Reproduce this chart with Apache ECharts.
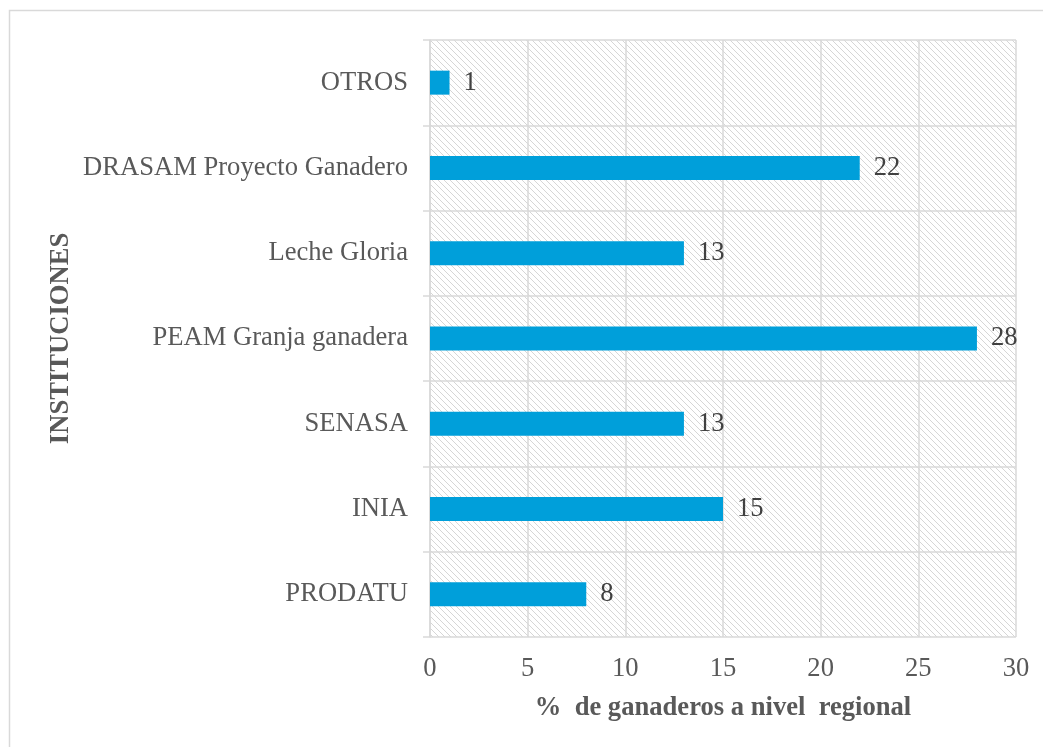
<!DOCTYPE html>
<html>
<head>
<meta charset="utf-8">
<script src="https://cdn.jsdelivr.net/npm/echarts@6/dist/echarts.min.js"></script>
<style>
  html, body { margin: 0; padding: 0; background: #fff; }
  #chart { width: 1043px; height: 747px; }
</style>
</head>
<body>
<div id="chart"></div>
<script>
// categories from bottom to top
const categories = ['PRODATU', 'INIA', 'SENASA', 'PEAM Granja ganadera', 'Leche Gloria', 'DRASAM Proyecto Ganadero', 'OTROS'];
const values = [8, 15, 13, 28, 13, 22, 1];
const xTicks = [0, 5, 10, 15, 20, 25, 30];

// hatch background like the excel "light downward diagonal" fill
function makeHatch() {
    const size = 6;
    const c = document.createElement('canvas');
    c.width = size;
    c.height = size;
    const ctx = c.getContext('2d');
    ctx.strokeStyle = '#d6d6d6';
    ctx.lineWidth = 1;
    ctx.beginPath();
    ctx.moveTo(-1, -1);
    ctx.lineTo(size + 1, size + 1);
    ctx.moveTo(-1, size - 1);
    ctx.lineTo(1, size + 1);
    ctx.moveTo(size - 1, -1);
    ctx.lineTo(size + 1, 1);
    ctx.stroke();
    return c;
}

const font = '"Liberation Serif", "Times New Roman", serif';
const fs = 26.6;
const chart = echarts.init(document.getElementById('chart'));

chart.setOption({
    backgroundColor: '#fff',
    animation: false,
    graphic: [{
        type: 'rect',
        shape: { x: 9.5, y: 10.5, width: 1100, height: 800 },
        style: { fill: 'none', stroke: '#d9d9d9', lineWidth: 1.5 },
        z: -10
    }],
    grid: {
        left: 430,
        right: 27,
        top: 40,
        bottom: 110,
        show: true,
        borderWidth: 0,
        backgroundColor: { image: makeHatch(), repeat: 'repeat' }
    },
    xAxis: {
        type: 'value',
        min: xTicks[0],
        max: xTicks[xTicks.length - 1],
        interval: 5,
        name: '%  de ganaderos a nivel  regional',
        nameLocation: 'middle',
        nameGap: 58,
        nameTextStyle: { fontFamily: font, fontSize: fs, fontWeight: 'bold', color: '#595959' },
        axisLine: { show: false },
        axisTick: { show: false },
        axisLabel: { fontFamily: font, fontSize: fs, color: '#595959', margin: 19 },
        splitLine: { show: true, lineStyle: { color: '#d9d9d9', width: 1.5 } }
    },
    yAxis: {
        type: 'category',
        data: categories,
        name: 'INSTITUCIONES',
        nameLocation: 'middle',
        nameMoveOverlap: false,
        nameGap: 355,
        nameRotate: 90,
        nameTextStyle: { fontFamily: font, fontSize: fs, fontWeight: 'bold', color: '#595959' },
        axisLine: { show: true, lineStyle: { color: '#d9d9d9', width: 1.5 } },
        axisTick: { show: true, length: 7, interval: 0, lineStyle: { color: '#d9d9d9', width: 1.5 } },
        axisLabel: { fontFamily: font, fontSize: fs, color: '#595959', margin: 22 },
        splitLine: { show: true, interval: 0, lineStyle: { color: '#d9d9d9', width: 1.5 } }
    },
    series: [{
        type: 'bar',
        data: values,
        barWidth: 24,
        itemStyle: { color: '#009FDA' },
        label: {
            show: true,
            position: 'right',
            distance: 14,
            fontFamily: font,
            fontSize: fs,
            color: '#404040'
        }
    }]
});
</script>
</body>
</html>
